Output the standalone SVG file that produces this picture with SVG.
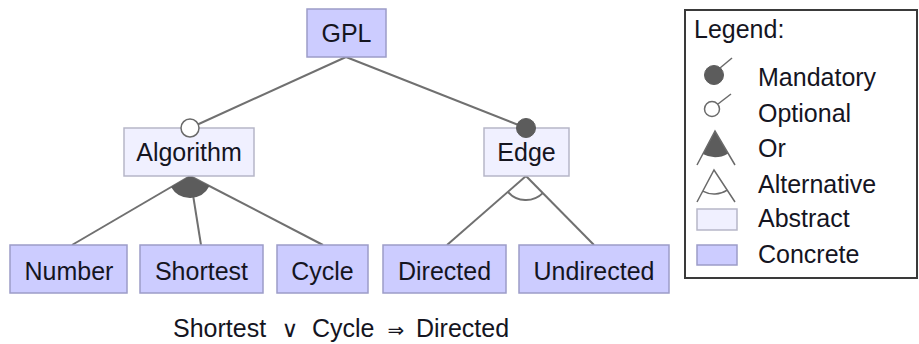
<svg xmlns="http://www.w3.org/2000/svg" width="919" height="344" viewBox="0 0 919 344">
  <style>
    text { font-family: "Liberation Sans", Arial, sans-serif; font-size: 25px; fill: #15151f; }
    .lbl { text-anchor: middle; }
    .concrete { fill: #ccccff; stroke: #9c9cc8; stroke-width: 1.5; }
    .abstract { fill: #f0f0ff; stroke: #b6b6c8; stroke-width: 1.5; }
    .edge { stroke: #707070; stroke-width: 2; fill: none; }
    .mand { fill: #5c5c5c; stroke: #5c5c5c; stroke-width: 1; }
    .opt { fill: #ffffff; stroke: #6a6a6a; stroke-width: 1.5; }
    .grpfill { fill: #5c5c5c; stroke: none; }
    .thin { stroke: #6a6a6a; stroke-width: 1.5; fill: none; }
    .sym { font-family: "DejaVu Sans", sans-serif; text-anchor: middle; }
  </style>

  <!-- connectors between features -->
  <g id="connectors">
    <line class="edge" x1="346" y1="57" x2="190" y2="128"/>
    <line class="edge" x1="346" y1="57" x2="526" y2="128"/>
    <line class="edge" x1="190" y1="176" x2="72" y2="245"/>
    <line class="edge" x1="190" y1="176" x2="201" y2="245"/>
    <line class="edge" x1="190" y1="176" x2="323" y2="245"/>
    <line class="edge" x1="526" y1="176" x2="447" y2="245"/>
    <line class="edge" x1="526" y1="176" x2="594" y2="245"/>
    <!-- or-group sector under Algorithm -->
    <path class="grpfill" d="M190,176 L171,187.1 A22,22 0 0 0 209.5,186.1 Z"/>
    <!-- alternative-group arc under Edge -->
    <path class="edge" d="M507.9,191.8 A24,24 0 0 0 542.8,193.1"/>
  </g>

  <g id="GPL">
    <rect class="concrete" x="307" y="9" width="79" height="48"/>
    <text class="lbl" x="346.5" y="42">GPL</text>
  </g>
  <g id="Algorithm">
    <rect class="abstract" x="124" y="128" width="130" height="48"/>
    <text class="lbl" x="189" y="161">Algorithm</text>
    <circle class="opt" cx="190" cy="128" r="9"/>
  </g>
  <g id="Edge">
    <rect class="abstract" x="484" y="128" width="85" height="48"/>
    <text class="lbl" x="526.5" y="161">Edge</text>
    <circle class="mand" cx="526" cy="128" r="9.5"/>
  </g>
  <g id="Number">
    <rect class="concrete" x="10" y="245" width="117" height="48"/>
    <text class="lbl" x="69" y="280">Number</text>
  </g>
  <g id="Shortest">
    <rect class="concrete" x="140" y="245" width="123" height="48"/>
    <text class="lbl" x="201.5" y="280">Shortest</text>
  </g>
  <g id="Cycle">
    <rect class="concrete" x="277" y="245" width="91" height="48"/>
    <text class="lbl" x="322.5" y="280">Cycle</text>
  </g>
  <g id="Directed">
    <rect class="concrete" x="383" y="245" width="123" height="48"/>
    <text class="lbl" x="444.5" y="280">Directed</text>
  </g>
  <g id="Undirected">
    <rect class="concrete" x="519" y="245" width="150" height="48"/>
    <text class="lbl" x="594" y="280">Undirected</text>
  </g>

  <!-- cross-tree constraint -->
  <g id="constraint">
    <text y="337"><tspan x="173">Shortest</tspan><tspan class="sym" x="290" font-size="23">∨</tspan><tspan x="312">Cycle</tspan><tspan class="sym" x="396" font-size="20">⇒</tspan><tspan x="416">Directed</tspan></text>
  </g>

  <!-- legend -->
  <g id="legend">
    <rect x="685" y="10" width="232" height="268" fill="#ffffff" stroke="#3a3a3a" stroke-width="2"/>
    <text x="694" y="38">Legend:</text>

    <circle class="mand" cx="714" cy="75" r="9.5"/>
    <line class="thin" x1="720" y1="68" x2="732" y2="58"/>
    <text x="758" y="86">Mandatory</text>

    <circle class="opt" cx="712" cy="109" r="7.5"/>
    <line class="thin" x1="718" y1="104" x2="731" y2="94"/>
    <text x="758" y="122">Optional</text>

    <path class="grpfill" d="M715,131 L702.8,154 A26,26 0 0 0 728.2,153.4 Z"/>
    <path class="thin" d="M697,165 L715,131 L735,165"/>
    <text x="758" y="157">Or</text>

    <path class="thin" d="M697,202 L714,170 L735,202"/>
    <path class="thin" d="M702.7,191.2 A24,24 0 0 0 727.2,190.1"/>
    <text x="758" y="193">Alternative</text>

    <rect class="abstract" x="697" y="209" width="40" height="21"/>
    <text x="758" y="227">Abstract</text>

    <rect class="concrete" x="697" y="245" width="40" height="20"/>
    <text x="758" y="263">Concrete</text>
  </g>
</svg>
